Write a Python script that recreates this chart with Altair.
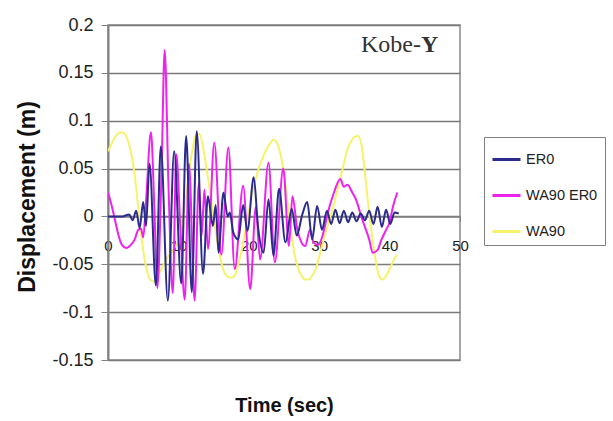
import altair as alt
import pandas as pd

# ---------------- data ----------------
series_names = ["ER0", "WA90 ER0", "WA90"]
series_colors = ["#2B2B8C", "#EE22EE", "#F6F26A"]

er0_t = [0, 1, 2, 3, 3.5, 4.0, 4.5, 5.0, 5.4, 5.9, 6.8, 7.5, 8.5, 9.4, 10.4, 11.1, 11.9, 12.6,
         13.5, 14.2, 14.9, 15.3, 15.7, 16.4, 17.0, 17.3, 17.8, 18.5, 19.2, 19.8, 20.7, 21.3,
         22.1, 22.8, 23.5, 24.3, 25.2, 26.1, 26.8, 27.6, 28.3, 29.0, 29.7, 30.4, 31.1, 31.7,
         32.3, 32.9, 33.5, 34.1, 34.7, 35.3, 35.9, 36.5, 37.1, 37.7, 38.3, 38.9, 39.5, 40.1,
         40.7, 41.3]
er0_d = [0, 0, 0, 0.002, -0.004, 0.006, -0.012, 0.015, -0.01, 0.055, -0.072, 0.073, -0.088,
         0.068, -0.07, 0.084, -0.079, 0.089, -0.06, 0.021, -0.01, 0.012, -0.038, 0.025, 0.0,
         0.004, -0.017, -0.024, 0.012, -0.015, 0.041, -0.01, -0.038, 0.018, -0.041, 0.029,
         -0.027, 0.008, -0.02, 0.002, 0.015, -0.024, 0.011, -0.014, 0.006, -0.008, 0.007,
         -0.007, 0.006, -0.006, 0.004, -0.005, 0.003, -0.004, 0.006, -0.008, 0.01, -0.011,
         0.007, -0.008, 0.004, 0.003]

wa90er0_t = [0, 0.5, 1.0, 1.5, 2.0, 2.6, 3.2, 3.8, 4.3, 4.7, 5.0, 5.4, 6.1, 6.6, 7.0, 7.6,
             8.05, 8.6, 9.2, 9.7, 10.3, 10.9, 11.5, 12.3, 12.9, 13.3, 13.7, 14.2, 15.1, 16.1,
             17.1, 18.0, 19.2, 20.2, 21.0, 21.6, 22.8, 23.7, 24.9, 25.7, 26.2, 26.9, 28.0,
             28.7, 29.2, 29.8, 30.7, 31.1, 32.1, 33.0, 33.5, 34.0, 34.7, 35.2, 36.1, 37.1,
             37.6, 38.3, 38.8, 39.5, 40.0, 40.5, 41.1]
wa90er0_d = [0.025, 0.012, -0.004, -0.02, -0.03, -0.033, -0.03, -0.024, -0.014, -0.013,
             -0.022, 0.015, 0.088, 0.005, -0.075, 0.045, 0.174, 0.03, -0.08, 0.065, -0.015,
             -0.087, 0.055, -0.088, 0.035, -0.02, 0.028, -0.034, 0.077, -0.04, 0.072, -0.055,
             0.032, -0.076, 0.01, -0.045, 0.056, -0.048, 0.05, -0.031, 0.021, -0.014, -0.031,
             -0.014, -0.027, -0.03, -0.014, 0.0, 0.025, 0.039, 0.031, 0.033, 0.025, 0.018,
             -0.003, -0.024, -0.038, -0.035, -0.025, -0.014, -0.006, 0.011, 0.025]

wa90_t = [0, 0.5, 1.0, 1.5, 2.0, 2.5, 3.0, 3.5, 4.0, 4.5, 5.0, 5.5, 6.0, 6.5, 7.0, 7.5, 8.0,
          8.5, 9.0, 9.5, 10.0, 10.5, 11.0, 11.5, 12.0, 12.5, 13.0, 13.5, 14.0, 14.5, 15.0,
          15.5, 16.0, 16.5, 17.0, 17.5, 18.0, 18.5, 19.0, 19.5, 20.0, 20.5, 21.0, 21.5, 22.0,
          22.5, 23.0, 23.5, 24.0, 24.5, 25.0, 25.5, 26.0, 26.5, 27.0, 27.5, 28.0, 28.5, 29.0,
          29.5, 30.0, 30.5, 31.0, 31.5, 32.0, 32.5, 33.0, 33.5, 34.0, 34.5, 35.0, 35.5, 36.0,
          36.5, 37.0, 37.5, 38.0, 38.5, 39.0, 39.5, 40.0, 40.5, 41.0]
wa90_d = [0.068, 0.076, 0.083, 0.087, 0.088, 0.085, 0.075, 0.058, 0.03, -0.005, -0.035,
          -0.056, -0.066, -0.068, -0.063, -0.056, -0.049, -0.042, -0.038, -0.032, -0.026,
          -0.012, 0.015, 0.045, 0.07, 0.085, 0.086, 0.072, 0.05, 0.025, 0.0, -0.025, -0.045,
          -0.058, -0.063, -0.064, -0.062, -0.05, -0.035, -0.015, 0.005, 0.025, 0.04, 0.052,
          0.062, 0.07, 0.076, 0.08, 0.077, 0.065, 0.045, 0.015, -0.015, -0.04, -0.054, -0.062,
          -0.066, -0.066, -0.062, -0.055, -0.042, -0.028, -0.015, -0.002, 0.01, 0.025, 0.04,
          0.055, 0.07, 0.078, 0.083, 0.084, 0.075, 0.045, 0.01, -0.02, -0.045, -0.062, -0.066,
          -0.062, -0.055, -0.047, -0.04]

y_ticks = [-0.15, -0.1, -0.05, 0, 0.05, 0.1, 0.15, 0.2]
x_ticks = [0, 10, 20, 30, 40, 50]

rows = []
for name, ts, ds in [("ER0", er0_t, er0_d), ("WA90 ER0", wa90er0_t, wa90er0_d),
                     ("WA90", wa90_t, wa90_d)]:
    for t, d in zip(ts, ds):
        rows.append({"series": name, "t": t, "d": d})
df = pd.DataFrame(rows)

FONT = "Liberation Sans"
W, H = 352, 335

x_axis = alt.Axis(values=x_ticks, grid=False, offset=-143.6, domainColor="#808080",
                  domainWidth=1.5, tickColor="#808080", tickSize=5, labelPadding=17,
                  labelFont=FONT, labelFontSize=15, labelColor="#222222", labelFlush=False,
                  title="Time (sec)", titleFont=FONT, titleFontSize=20, titleFontWeight="bold",
                  titleColor="#111111", titleY=189, titleBaseline="middle")
y_axis = alt.Axis(values=y_ticks, labelExpr="replace(format(datum.value, '.2~f'), '\u2212', '-')",
                  grid=True, gridColor="#7a7a7a", gridWidth=1.5, domainColor="#808080",
                  domainWidth=2, tickColor="#808080", tickSize=7, labelPadding=8,
                  labelFont=FONT, labelFontSize=18, labelColor="#222222",
                  title="Displacement (m)", titleFont=FONT, titleFontSize=23,
                  titleFontWeight="bold", titleColor="#111111", titleX=-81, titleY=H / 2 + 4,
                  titleAngle=270, titleBaseline="middle", titleAlign="center")

color = alt.Color("series:N",
                  scale=alt.Scale(domain=series_names, range=series_colors),
                  legend=alt.Legend(title=None, orient="none", legendX=376, legendY=112,
                                    symbolType="stroke", symbolStrokeWidth=3, symbolSize=784,
                                    labelFont=FONT, labelFontSize=14.5, labelColor="#222222",
                                    labelOffset=4, padding=7, rowPadding=14,
                                    strokeColor="#808080", fillColor="white"))

x_enc = alt.X("t:Q", scale=alt.Scale(domain=[0, 50], nice=False), axis=x_axis)
y_enc = alt.Y("d:Q", scale=alt.Scale(domain=[-0.15, 0.2], nice=False, zero=False), axis=y_axis)

base = alt.Chart(df)
layers = []
for name in ["WA90", "WA90 ER0", "ER0"]:
    layers.append(base.transform_filter(alt.datum.series == name)
                  .mark_line(strokeWidth=2, clip=True, interpolate="monotone")
                  .encode(x=x_enc, y=y_enc, color=color, order="t:Q"))

kobe = alt.Chart(pd.DataFrame({"s": ["Kobe-"]})).mark_text(
    font="Liberation Serif", fontSize=24, align="right", baseline="alphabetic", color="#333333"
).encode(x=alt.value(313), y=alt.value(27), text="s:N")
kobe_y = alt.Chart(pd.DataFrame({"s": ["Y"]})).mark_text(
    font="Liberation Serif", fontSize=24, fontWeight="bold", align="left",
    baseline="alphabetic", color="#333333"
).encode(x=alt.value(313), y=alt.value(27), text="s:N")

chart = alt.layer(*layers, kobe, kobe_y).properties(
    width=W, height=H,
    autosize=alt.AutoSizeParams(type="none"),
    padding={"left": 108, "top": 25, "right": 153, "bottom": 61},
    background="white",
).configure_view(stroke="#8a8a8a", strokeWidth=1.5)

chart.save("out.html", embed_options={"renderer": "svg", "actions": False})
